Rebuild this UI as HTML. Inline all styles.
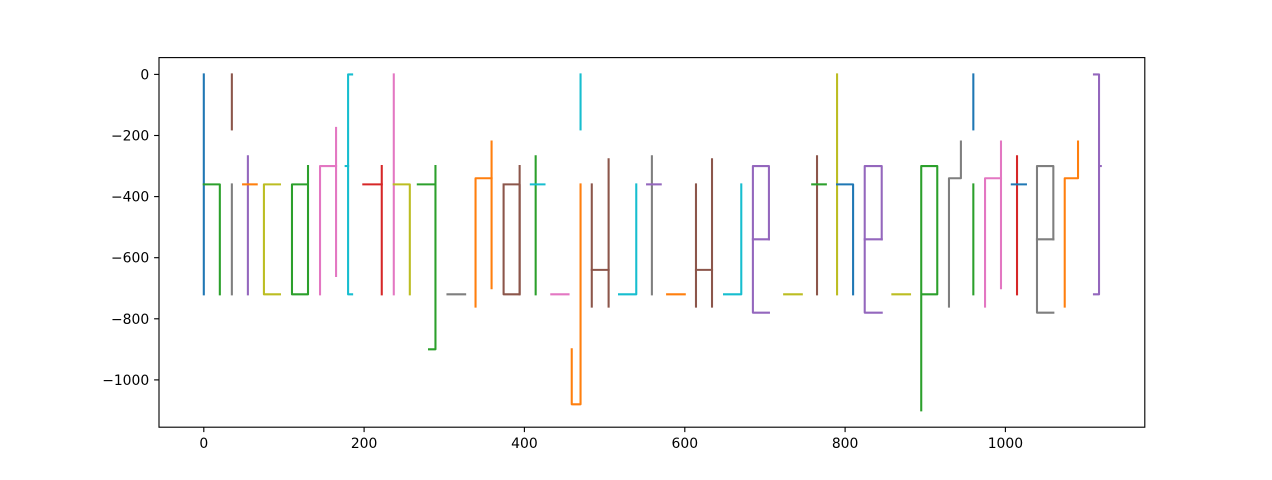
<!DOCTYPE html>
<html>
<head>
<meta charset="utf-8">
<style>
html,body{margin:0;padding:0;background:#fff;}
svg{display:block;}
text{font-family:"DejaVu Sans","Liberation Sans",sans-serif;font-size:13.9px;fill:#000;}
</style>
</head>
<body>
<svg width="1272" height="480" viewBox="0 0 1272 480" xmlns="http://www.w3.org/2000/svg">
<rect x="0" y="0" width="1272" height="480" fill="#fff"/>
<defs>
<clipPath id="ax"><rect x="159" y="57.6" width="985.8" height="369.6"/></clipPath>
</defs>
<g clip-path="url(#ax)">
<g transform="matrix(0.8016 0 0 0.30545 203.8 74.4)" fill="none" stroke-width="2.08" stroke-linecap="square" stroke-linejoin="round">
<g vector-effect="non-scaling-stroke">
<polyline vector-effect="non-scaling-stroke" stroke="#1f77b4" points="0,0 0,720"/>
<polyline vector-effect="non-scaling-stroke" stroke="#2ca02c" points="0,360 20,360 20,720"/>
<polyline vector-effect="non-scaling-stroke" stroke="#8c564b" points="35,0 35,180"/>
<polyline vector-effect="non-scaling-stroke" stroke="#7f7f7f" points="35,360 35,720"/>
<polyline vector-effect="non-scaling-stroke" stroke="#9467bd" points="55,268 55,720"/>
<polyline vector-effect="non-scaling-stroke" stroke="#ff7f0e" points="49,360 66,360"/>
<polyline vector-effect="non-scaling-stroke" stroke="#bcbd22" points="95,360 75,360 75,720 95,720"/>
<polyline vector-effect="non-scaling-stroke" stroke="#2ca02c" points="130,300 130,720 110,720 110,360 130,360"/>
<polyline vector-effect="non-scaling-stroke" stroke="#e377c2" points="145,720 145,300 165,300"/>
<polyline vector-effect="non-scaling-stroke" stroke="#e377c2" points="165,175 165,660"/>
<polyline vector-effect="non-scaling-stroke" stroke="#17becf" points="177,300 180,300"/>
<polyline vector-effect="non-scaling-stroke" stroke="#17becf" points="185,0 180,0 180,720 185,720"/>
<polyline vector-effect="non-scaling-stroke" stroke="#d62728" points="199,360 222,360"/>
<polyline vector-effect="non-scaling-stroke" stroke="#d62728" points="222,300 222,720"/>
<polyline vector-effect="non-scaling-stroke" stroke="#e377c2" points="237,0 237,720"/>
<polyline vector-effect="non-scaling-stroke" stroke="#bcbd22" points="237,360 257,360 257,720"/>
<polyline vector-effect="non-scaling-stroke" stroke="#2ca02c" points="267,360 289,360"/>
<polyline vector-effect="non-scaling-stroke" stroke="#2ca02c" points="289,300 289,900 281,900"/>
<polyline vector-effect="non-scaling-stroke" stroke="#7f7f7f" points="304,720 326,720"/>
<polyline vector-effect="non-scaling-stroke" stroke="#ff7f0e" points="339,760 339,340 359,340"/>
<polyline vector-effect="non-scaling-stroke" stroke="#ff7f0e" points="359,220 359,700"/>
<polyline vector-effect="non-scaling-stroke" stroke="#8c564b" points="374,360 394,360 394,720 374,720 374,360"/>
<polyline vector-effect="non-scaling-stroke" stroke="#8c564b" points="394,300 394,720"/>
<polyline vector-effect="non-scaling-stroke" stroke="#2ca02c" points="414,268 414,720"/>
<polyline vector-effect="non-scaling-stroke" stroke="#17becf" points="408,360 425,360"/>
<polyline vector-effect="non-scaling-stroke" stroke="#e377c2" points="433.5,720 455,720"/>
<polyline vector-effect="non-scaling-stroke" stroke="#ff7f0e" points="459,900 459,1080 470,1080 470,360"/>
<polyline vector-effect="non-scaling-stroke" stroke="#17becf" points="470,0 470,180"/>
<polyline vector-effect="non-scaling-stroke" stroke="#8c564b" points="484,360 484,760"/>
<polyline vector-effect="non-scaling-stroke" stroke="#8c564b" points="484,640 505,640"/>
<polyline vector-effect="non-scaling-stroke" stroke="#8c564b" points="505,278 505,760"/>
<polyline vector-effect="non-scaling-stroke" stroke="#17becf" points="518,720 539.5,720 539.5,360"/>
<polyline vector-effect="non-scaling-stroke" stroke="#7f7f7f" points="559,268 559,720"/>
<polyline vector-effect="non-scaling-stroke" stroke="#9467bd" points="553,360 570,360"/>
<polyline vector-effect="non-scaling-stroke" stroke="#ff7f0e" points="578,720 600,720"/>
<polyline vector-effect="non-scaling-stroke" stroke="#8c564b" points="614,360 614,760"/>
<polyline vector-effect="non-scaling-stroke" stroke="#8c564b" points="614,640 634,640"/>
<polyline vector-effect="non-scaling-stroke" stroke="#8c564b" points="634,278 634,760"/>
<polyline vector-effect="non-scaling-stroke" stroke="#17becf" points="649,720 670.5,720 670.5,360"/>
<polyline vector-effect="non-scaling-stroke" stroke="#9467bd" points="705,540 705,300 685,300 685,780 705,780"/>
<polyline vector-effect="non-scaling-stroke" stroke="#9467bd" points="685,540 705,540"/>
<polyline vector-effect="non-scaling-stroke" stroke="#bcbd22" points="724,720 746,720"/>
<polyline vector-effect="non-scaling-stroke" stroke="#8c564b" points="765,268 765,720"/>
<polyline vector-effect="non-scaling-stroke" stroke="#2ca02c" points="759,360 776,360"/>
<polyline vector-effect="non-scaling-stroke" stroke="#bcbd22" points="790,0 790,720"/>
<polyline vector-effect="non-scaling-stroke" stroke="#1f77b4" points="790,360 810,360 810,720"/>
<polyline vector-effect="non-scaling-stroke" stroke="#9467bd" points="845.7,540 845.7,300 824.5,300 824.5,780 845.7,780"/>
<polyline vector-effect="non-scaling-stroke" stroke="#9467bd" points="824.5,540 845.7,540"/>
<polyline vector-effect="non-scaling-stroke" stroke="#bcbd22" points="859,720 881,720"/>
<polyline vector-effect="non-scaling-stroke" stroke="#2ca02c" points="895,1100 895,300 915,300 915,720 895,720"/>
<polyline vector-effect="non-scaling-stroke" stroke="#7f7f7f" points="929.6,760 929.6,340 944.5,340 944.5,220"/>
<polyline vector-effect="non-scaling-stroke" stroke="#1f77b4" points="960,0 960,180"/>
<polyline vector-effect="non-scaling-stroke" stroke="#2ca02c" points="960,360 960,720"/>
<polyline vector-effect="non-scaling-stroke" stroke="#e377c2" points="974.6,760 974.6,340 994.5,340"/>
<polyline vector-effect="non-scaling-stroke" stroke="#e377c2" points="994.5,220 994.5,700"/>
<polyline vector-effect="non-scaling-stroke" stroke="#d62728" points="1014.5,268 1014.5,720"/>
<polyline vector-effect="non-scaling-stroke" stroke="#1f77b4" points="1008,360 1025.6,360"/>
<polyline vector-effect="non-scaling-stroke" stroke="#7f7f7f" points="1059.8,540 1059.8,300 1039.4,300 1039.4,780 1059.8,780"/>
<polyline vector-effect="non-scaling-stroke" stroke="#7f7f7f" points="1039.4,540 1059.8,540"/>
<polyline vector-effect="non-scaling-stroke" stroke="#ff7f0e" points="1074,760 1074,340 1090.6,340 1090.6,220"/>
<polyline vector-effect="non-scaling-stroke" stroke="#9467bd" points="1110.5,0 1116.8,0 1116.8,720 1110.5,720"/>
<polyline vector-effect="non-scaling-stroke" stroke="#9467bd" points="1116.8,300 1119,300"/>
</g>
</g>
</g>
<!-- axes frame -->
<rect x="159" y="57.6" width="985.8" height="369.6" fill="none" stroke="#000" stroke-width="1.11"/>
<!-- x ticks -->
<g stroke="#000" stroke-width="1.11">
<line x1="203.8" y1="427.2" x2="203.8" y2="432.1"/>
<line x1="364.1" y1="427.2" x2="364.1" y2="432.1"/>
<line x1="524.4" y1="427.2" x2="524.4" y2="432.1"/>
<line x1="684.8" y1="427.2" x2="684.8" y2="432.1"/>
<line x1="845.1" y1="427.2" x2="845.1" y2="432.1"/>
<line x1="1005.4" y1="427.2" x2="1005.4" y2="432.1"/>
<line x1="159" y1="74.4" x2="154.1" y2="74.4"/>
<line x1="159" y1="135.5" x2="154.1" y2="135.5"/>
<line x1="159" y1="196.6" x2="154.1" y2="196.6"/>
<line x1="159" y1="257.7" x2="154.1" y2="257.7"/>
<line x1="159" y1="318.8" x2="154.1" y2="318.8"/>
<line x1="159" y1="379.9" x2="154.1" y2="379.9"/>
</g>
<g text-anchor="middle">
<text x="203.8" y="448">0</text>
<text x="364.1" y="448">200</text>
<text x="524.4" y="448">400</text>
<text x="684.8" y="448">600</text>
<text x="845.1" y="448">800</text>
<text x="1005.4" y="448">1000</text>
</g>
<g text-anchor="end">
<text x="149.2" y="79.4">0</text>
<text x="149.2" y="140.5">−200</text>
<text x="149.2" y="201.6">−400</text>
<text x="149.2" y="262.7">−600</text>
<text x="149.2" y="323.8">−800</text>
<text x="149.2" y="384.9">−1000</text>
</g>
</svg>
</body>
</html>
